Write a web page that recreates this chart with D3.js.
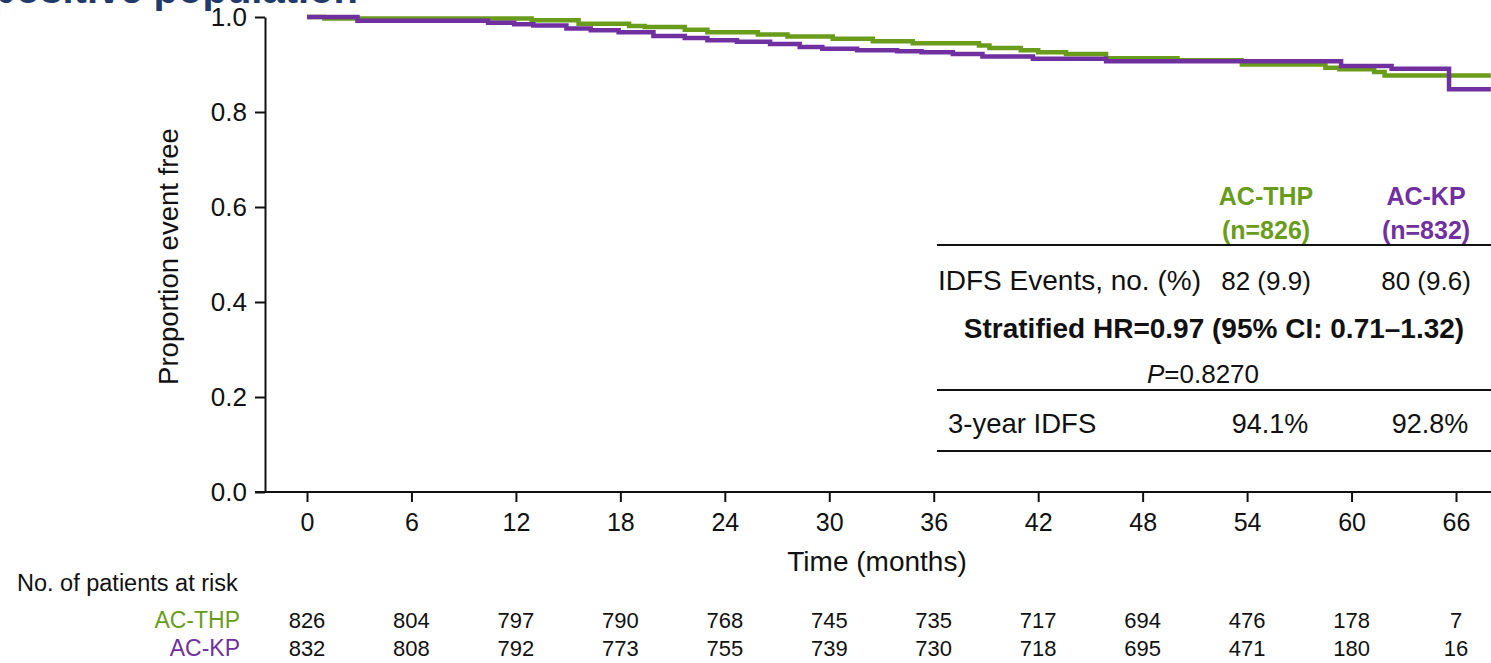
<!DOCTYPE html>
<html>
<head>
<meta charset="utf-8">
<script src="https://cdn.jsdelivr.net/npm/d3@7"></script>
<style>
  body { margin: 0; background: #fff; }
  svg { display: block; font-family: Arial, "Liberation Sans", sans-serif; }
  .axis text { font-size: 25px; fill: #111; }
  .axis line, .axis path { stroke: #111; stroke-width: 2; }
</style>
</head>
<body>
<svg id="chart" width="1491" height="663"></svg>
<script>
// ---- data ----
const monthTicks = [0, 6, 12, 18, 24, 30, 36, 42, 48, 54, 60, 66]
const yTicks = [0, 0.2, 0.4, 0.6, 0.8, 1.0]

// KM step points: time (months) and survival after the step
const thpTimes = [0, 1.0, 12.9, 15.6, 18.5, 19.4, 21.7, 23.0, 25.9, 27.6, 30.2, 32.5, 34.8, 38.6, 39.2, 41.0, 42.0, 43.6, 45.9, 50.0, 53.7, 58.5, 59.3, 61.3, 61.9, 68]
const thpSurv = [1.0, 0.997, 0.993, 0.986, 0.981, 0.979, 0.973, 0.968, 0.963, 0.959, 0.954, 0.949, 0.945, 0.940, 0.935, 0.930, 0.926, 0.922, 0.913, 0.909, 0.900, 0.893, 0.890, 0.884, 0.877, 0.877]
const kpTimes = [0, 2.9, 10.4, 11.9, 13.0, 14.9, 16.3, 17.9, 19.9, 21.7, 23.0, 24.7, 26.6, 28.3, 29.6, 31.6, 33.9, 35.3, 37.1, 38.8, 41.7, 45.9, 59.4, 62.3, 65.6, 68]
const kpSurv = [1.0, 0.992, 0.988, 0.985, 0.982, 0.976, 0.972, 0.968, 0.960, 0.956, 0.951, 0.948, 0.943, 0.937, 0.933, 0.930, 0.928, 0.926, 0.922, 0.917, 0.912, 0.907, 0.897, 0.891, 0.848, 0.848]

const riskTHP = [826, 804, 797, 790, 768, 745, 735, 717, 694, 476, 178, 7]
const riskKP = [832, 808, 792, 773, 755, 739, 730, 718, 695, 471, 180, 16]

const arms = ['AC-THP', 'AC-KP']
const armN = ['(n=826)', '(n=832)']
const idfsEvents = ['82 (9.9)', '80 (9.6)']
const idfs3yr = ['94.1%', '92.8%']

const GREEN = '#6a9c1c'
const PURPLE = '#7030a0'

// ---- chart ----
const svg = d3.select('#chart')

const x = d3.scaleLinear().domain([0, 66]).range([307, 1456])
const y = d3.scaleLinear().domain([0, 1]).range([492, 17])

// cut-off slide title at the very top
svg.append('text')
  .attr('x', 358).attr('y', 3)
  .attr('text-anchor', 'end')
  .attr('font-size', 40).attr('font-weight', 'bold')
  .attr('fill', '#1f3a6b')
  .text('HER2-positive population')

// axes
svg.append('g')
  .attr('class', 'axis')
  .attr('transform', `translate(${265},0)`)
  .call(d3.axisLeft(y).tickValues(yTicks).tickFormat(d3.format('.1f')).tickSize(10).tickSizeOuter(0).tickPadding(8))
  .selectAll('text').attr('font-size', 26).style('font-size', '26px')

const xAxis = svg.append('g')
  .attr('class', 'axis')
  .attr('transform', `translate(0,${y(0)})`)
  .call(d3.axisBottom(x).tickValues(monthTicks).tickSize(10).tickSizeOuter(0).tickPadding(11))
xAxis.select('.domain').attr('d', `M255,0H1491`)

svg.append('text')
  .attr('transform', `translate(168,${(y(0) + y(1)) / 2 + 2}) rotate(-90)`)
  .attr('text-anchor', 'middle')
  .attr('dy', '0.35em')
  .attr('font-size', 27.5)
  .attr('fill', '#111')
  .text('Proportion event free')

svg.append('text')
  .attr('x', 877).attr('y', 571)
  .attr('text-anchor', 'middle')
  .attr('font-size', 28)
  .attr('fill', '#111')
  .text('Time (months)')

// KM curves
const line = d3.line()
  .x((d) => x(d[0]))
  .y((d) => y(d[1]))
  .curve(d3.curveStepAfter)

const curves = [
  { times: thpTimes, surv: thpSurv, color: GREEN },
  { times: kpTimes, surv: kpSurv, color: PURPLE }
]

svg.append('g').selectAll('path')
  .data(curves)
  .join('path')
  .attr('fill', 'none')
  .attr('stroke', (d) => d.color)
  .attr('stroke-width', 4.5)
  .attr('d', (d) => line(d.times.map((t, i) => [t, d.surv[i]])))

// number at risk
svg.append('text')
  .attr('x', 17).attr('y', 591)
  .attr('font-size', 23.5).attr('fill', '#111')
  .text('No. of patients at risk')

const riskRows = [
  { label: arms[0], values: riskTHP, color: GREEN, y: 628 },
  { label: arms[1], values: riskKP, color: PURPLE, y: 656 }
]

const rows = svg.append('g').selectAll('g')
  .data(riskRows)
  .join('g')

rows.append('text')
  .attr('x', 240).attr('y', (d) => d.y)
  .attr('text-anchor', 'end')
  .attr('font-size', 23)
  .attr('fill', (d) => d.color)
  .text((d) => d.label)

rows.selectAll('.n')
  .data((d) => d.values.map((v, i) => ({ v, t: monthTicks[i], y: d.y })))
  .join('text')
  .attr('class', 'n')
  .attr('x', (d) => x(d.t))
  .attr('y', (d) => d.y)
  .attr('text-anchor', 'middle')
  .attr('font-size', 22)
  .attr('fill', '#111')
  .text((d) => d.v)

// summary table
const tbl = svg.append('g').attr('font-size', 25).attr('fill', '#111')
const colX = [1266, 1426]
const armColors = [GREEN, PURPLE]

tbl.selectAll('.head')
  .data(arms)
  .join('text')
  .attr('class', 'head')
  .attr('x', (d, i) => colX[i]).attr('y', 205)
  .attr('text-anchor', 'middle')
  .attr('font-weight', 'bold')
  .attr('fill', (d, i) => armColors[i])
  .text((d) => d)

tbl.selectAll('.headn')
  .data(armN)
  .join('text')
  .attr('class', 'headn')
  .attr('x', (d, i) => colX[i]).attr('y', 239)
  .attr('text-anchor', 'middle')
  .attr('font-weight', 'bold')
  .attr('fill', (d, i) => armColors[i])
  .text((d) => d)

tbl.selectAll('line')
  .data([245, 390, 451])
  .join('line')
  .attr('x1', 937).attr('x2', 1491)
  .attr('y1', (d) => d).attr('y2', (d) => d)
  .attr('stroke', '#111').attr('stroke-width', 2)

tbl.append('text').attr('x', 938).attr('y', 290).attr('font-size', 28).text('IDFS Events, no. (%)')
tbl.selectAll('.ev')
  .data(idfsEvents)
  .join('text')
  .attr('class', 'ev')
  .attr('x', (d, i) => colX[i]).attr('y', 290)
  .attr('text-anchor', 'middle')
  .attr('font-size', 26)
  .text((d) => d)

tbl.append('text')
  .attr('x', 1214).attr('y', 338)
  .attr('text-anchor', 'middle')
  .attr('font-weight', 'bold')
  .attr('font-size', 28)
  .text('Stratified HR=0.97 (95% CI: 0.71–1.32)')

const pText = tbl.append('text')
  .attr('x', 1203).attr('y', 383)
  .attr('text-anchor', 'middle')
  .attr('font-size', 26)
pText.append('tspan').attr('font-style', 'italic').text('P')
pText.append('tspan').text('=0.8270')

tbl.append('text').attr('x', 948).attr('y', 433).attr('font-size', 27.5).text('3-year IDFS')
tbl.selectAll('.yr')
  .data(idfs3yr)
  .join('text')
  .attr('class', 'yr')
  .attr('x', (d, i) => colX[i] + 4).attr('y', 433)
  .attr('text-anchor', 'middle')
  .attr('font-size', 27)
  .text((d) => d)
</script>
</body>
</html>
